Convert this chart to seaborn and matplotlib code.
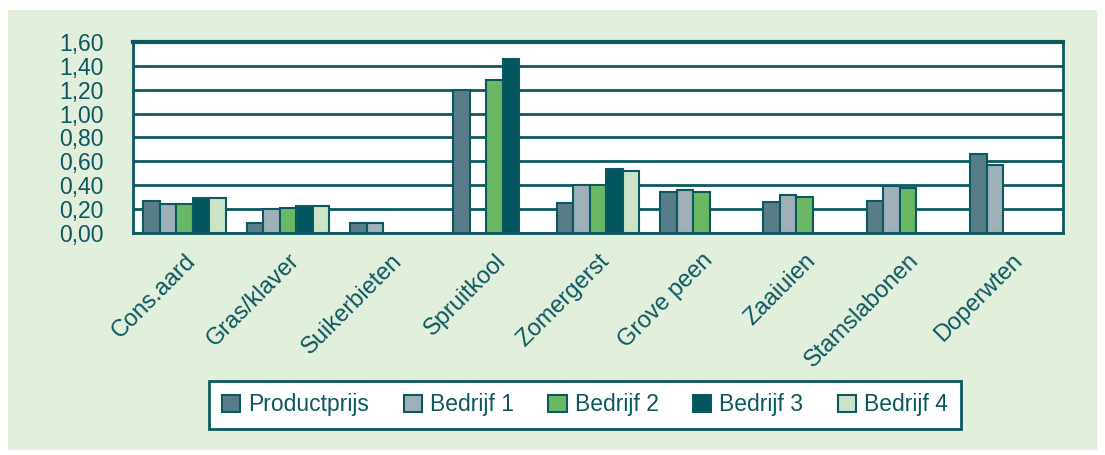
import numpy as np
import pandas as pd
import matplotlib
matplotlib.use("Agg")
import matplotlib.pyplot as plt
from matplotlib.patches import Rectangle
import seaborn as sns

# Data
gewassen = ["Cons.aard", "Gras/klaver", "Suikerbieten", "Spruitkool", "Zomergerst",
            "Grove peen", "Zaaiuien", "Stamslabonen", "Doperwten"]
series = ["Productprijs", "Bedrijf 1", "Bedrijf 2", "Bedrijf 3", "Bedrijf 4"]
productprijs = [0.27, 0.08, 0.08, 1.20, 0.25, 0.34, 0.26, 0.27, 0.66]
bedrijf1 = [0.24, 0.20, 0.08, np.nan, 0.40, 0.36, 0.32, 0.39, 0.57]
bedrijf2 = [0.24, 0.21, np.nan, 1.28, 0.40, 0.34, 0.30, 0.38, np.nan]
bedrijf3 = [0.29, 0.23, np.nan, 1.46, 0.54, np.nan, np.nan, np.nan, np.nan]
bedrijf4 = [0.29, 0.23, np.nan, np.nan, 0.52, np.nan, np.nan, np.nan, np.nan]
yticks = [0.0, 0.2, 0.4, 0.6, 0.8, 1.0, 1.2, 1.4, 1.6]
ytick_labels = ["0,00", "0,20", "0,40", "0,60", "0,80", "1,00", "1,20", "1,40", "1,60"]

colors = ["#587d88", "#9fb0b8", "#6ab864", "#01555e", "#cde3c8"]
teal = "#0b5860"
bg = "#e1efdc"

df = pd.DataFrame({"Gewas": gewassen, "Productprijs": productprijs, "Bedrijf 1": bedrijf1,
                   "Bedrijf 2": bedrijf2, "Bedrijf 3": bedrijf3, "Bedrijf 4": bedrijf4})
long = df.melt(id_vars="Gewas", var_name="Reeks", value_name="Prijs")

sns.set_style("white")
plt.rcParams["font.family"] = ["Liberation Sans", "DejaVu Sans"]

fig = plt.figure(figsize=(11.05, 4.55), dpi=100)
fig.patch.set_facecolor("white")
fig.patches.append(Rectangle((8 / 1105, 5 / 455), 1089 / 1105, 440 / 455,
                             transform=fig.transFigure, facecolor=bg, edgecolor="none", zorder=-10))

ax = fig.add_axes([133 / 1105, 1 - 233 / 455, 930 / 1105, 191 / 455])
sns.barplot(data=long, x="Gewas", y="Prijs", hue="Reeks", order=gewassen, hue_order=series,
            palette=colors, saturation=1, width=0.8, edgecolor=teal, linewidth=1.5, ax=ax,
            legend=True, zorder=3)

ax.set_facecolor("white")
ax.set_ylim(0, 1.6)
ax.set_xlim(-0.5, len(gewassen) - 0.5)
ax.set_yticks(yticks)
ax.set_yticklabels(ytick_labels)
ax.yaxis.grid(True, color=teal, linewidth=2, zorder=0)
ax.set_axisbelow(True)
for s in ax.spines.values():
    s.set_color(teal)
    s.set_linewidth(2)
ax.spines["top"].set_linewidth(3)
ax.set_xlabel("")
ax.set_ylabel("")

ax.tick_params(axis="y", colors=teal, labelsize=16.5, length=8, width=2, direction="inout", pad=17)
ax.set_xticks(range(len(gewassen)))
ax.set_xticklabels(gewassen, rotation=45, ha="right", rotation_mode="anchor")
ax.tick_params(axis="x", colors=teal, labelsize=17, length=0, pad=12)
ax.set_xticks(np.arange(-0.5, len(gewassen), 1), minor=True)
ax.tick_params(axis="x", which="minor", length=6, width=2, color=teal)

leg = ax.legend(loc="center", bbox_to_anchor=(585 / 1105, 1 - 405 / 455),
                bbox_transform=fig.transFigure, ncol=5, frameon=True, fancybox=False,
                framealpha=1, fontsize=16.5, handlelength=0.8, handleheight=0.8,
                handletextpad=0.35, columnspacing=1.5, borderpad=0.55)
leg.get_frame().set_edgecolor(teal)
leg.get_frame().set_linewidth(2)
for t in leg.get_texts():
    t.set_color(teal)

fig.savefig("out.png", dpi=100)
